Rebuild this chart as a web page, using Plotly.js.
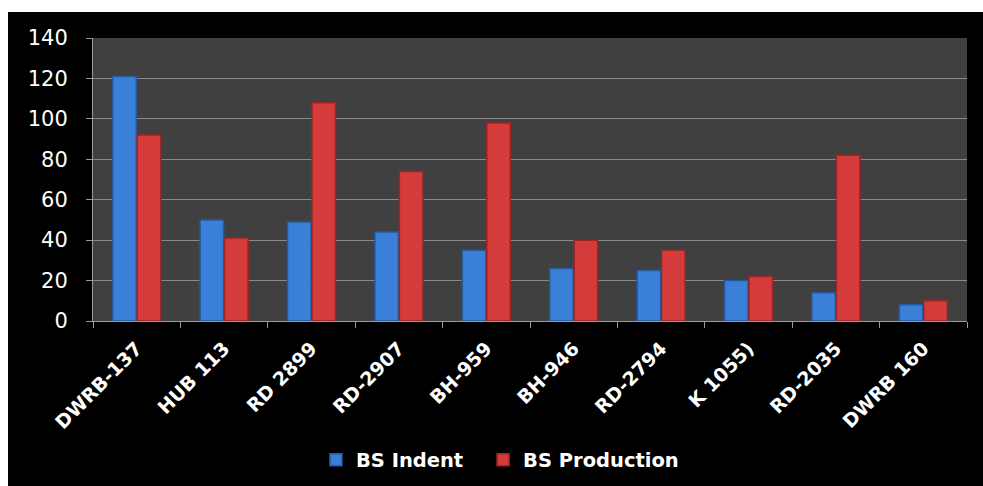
<!DOCTYPE html>
<html>
<head>
<meta charset="utf-8">
<script src="https://cdn.plot.ly/plotly-3.0.1.min.js"></script>
<style>
html,body{margin:0;padding:0;background:#ffffff;width:983px;height:486px;overflow:hidden;}
#chart{position:absolute;left:8px;top:12px;width:975px;height:474px;background:#000;}
</style>
</head>
<body>
<div id="chart"></div>
<script>
const categories = ["DWRB-137","HUB 113","RD 2899","RD-2907","BH-959","BH-946","RD-2794","K 1055)","RD-2035","DWRB 160"];
const bsIndent = [121, 50, 49, 44, 35, 26, 25, 20, 14, 8];
const bsProduction = [92, 41, 108, 74, 98, 40, 35, 22, 82, 10];
const yTicks = [0, 20, 40, 60, 80, 100, 120, 140];

const fontFam = "'DejaVu Sans', sans-serif";
const legFont = {family:fontFam, size:19.5, color:"#ffffff", weight:"bold"};

const traces = [
  {type:"bar", name:"BS Indent", x:categories, y:bsIndent, legend:"legend",
   marker:{color:"#3a80d8", line:{color:"#255aa0", width:1.5}}},
  {type:"bar", name:"BS Production", x:categories, y:bsProduction, legend:"legend2",
   marker:{color:"#d63b3b", line:{color:"#9a2626", width:1.5}}}
];

const layout = {
  width:975, height:474,
  paper_bgcolor:"#000000", plot_bgcolor:"#404040",
  margin:{l:85, r:16, t:26, b:165, autoexpand:false},
  barmode:"group", bargap:0.44, bargroupgap:0.04,
  showlegend:true,
  legend:{orientation:"h", x:0.2551, xanchor:"left", yref:"container", y:0.0549, yanchor:"middle",
          font:legFont, bgcolor:"rgba(0,0,0,0)", itemwidth:30},
  legend2:{orientation:"h", x:0.4463, xanchor:"left", yref:"container", y:0.0549, yanchor:"middle",
          font:legFont, bgcolor:"rgba(0,0,0,0)", itemwidth:30},
  xaxis:{type:"category", tickangle:-45, tickson:"boundaries", ticks:"outside", ticklen:6,
         tickcolor:"#9a9a9a", showline:true, linecolor:"#9a9a9a", linewidth:1,
         ticklabelstandoff:8, automargin:false,
         showgrid:false, tickfont:{family:fontFam, size:19, color:"#ffffff", weight:"bold"}},
  yaxis:{range:[0,140], tickvals:yTicks, ticks:"outside", ticklen:6, tickcolor:"#9a9a9a",
         showline:true, linecolor:"#9a9a9a", linewidth:1, automargin:false,
         gridcolor:"#8a8a8a", gridwidth:1, zeroline:false, ticklabelstandoff:14,
         tickfont:{family:fontFam, size:21, color:"#ffffff"}},
  font:{family:fontFam, color:"#ffffff"}
};

Plotly.newPlot("chart", traces, layout, {displayModeBar:false, staticPlot:true});
</script>
</body>
</html>
